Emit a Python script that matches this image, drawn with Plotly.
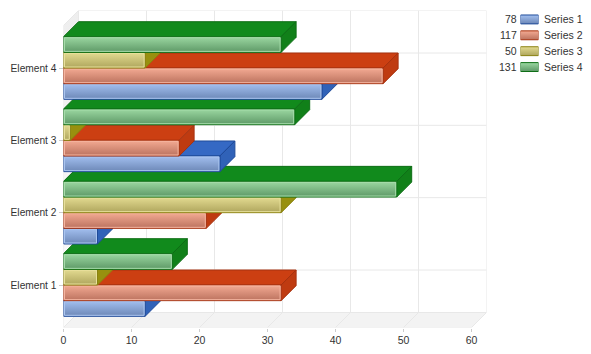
import plotly.graph_objects as go

categories = ["Element 1", "Element 2", "Element 3", "Element 4"]
series_names = ["Series 1", "Series 2", "Series 3", "Series 4"]
series_1 = [12, 5, 23, 38]
series_2 = [32, 21, 17, 47]
series_3 = [5, 32, 1, 12]
series_4 = [16, 49, 34, 32]
all_series = [series_1, series_2, series_3, series_4]
x_ticks = [0, 10, 20, 30, 40, 50, 60]

W, H = 591, 354
L, R, T, B = 63.5, 486.5, 10.5, 327.5
PX_X = 6.8
PX_Y = 72.33
DX = 15 / PX_X
DY = 15 / PX_Y
Y0 = 285.0
XMAX = (R - L) / PX_X
YMIN = (Y0 - B) / PX_Y
YMAX = (Y0 - T) / PX_Y
BAR_H = 15.65 / PX_Y

front_top = ["#a3c0f0", "#f4ab94", "#e4dc92", "#9cd8a2"]
front_bot = ["#6c87b6", "#bb725e", "#aea55c", "#5d9866"]
inner = ["#aac5f0", "#f5b5a0", "#e8e09c", "#a6dcaa"]
top_col = ["#3569c4", "#cc3f12", "#a39a10", "#118a1c"]
side_col = ["#3062b8", "#bf3b11", "#98900f", "#118019"]
edge_col = ["#1f4a99", "#a63210", "#8a8210", "#0e6e16"]

fig = go.Figure()


def poly(xs, ys, fill=None, line=None, width=1, gradient=None, xa="x", ya="y"):
    kw = {}
    if gradient:
        kw["fillgradient"] = dict(type="vertical", colorscale=[[0, gradient[1]], [1, gradient[0]]])
    elif fill:
        kw["fillcolor"] = fill
    fig.add_trace(go.Scatter(
        x=xs, y=ys, mode="lines", fill="toself" if (fill or gradient) else "none",
        line=dict(color=line or "rgba(0,0,0,0)", width=width),
        hoverinfo="skip", showlegend=False, xaxis=xa, yaxis=ya, **kw))


def lines(segs, color):
    xs, ys = [], []
    for (a, b, c, d) in segs:
        xs += [a, c, None]
        ys += [b, d, None]
    fig.add_trace(go.Scatter(x=xs, y=ys, mode="lines", line=dict(color=color, width=1),
                             hoverinfo="skip", showlegend=False))


grid = "#e8e8e8"
# walls
poly([0, DX, DX, 0, 0], [YMIN, YMIN + DY, YMAX, YMAX - DY, YMIN],
     gradient=("#eeeeee", "#fbfbfb"))
poly([0, 60, 60 + DX, DX, 0], [YMIN, YMIN, YMIN + DY, YMIN + DY, YMIN], fill="#f3f3f3")
segs = []
for t in x_ticks:
    segs.append((t + DX, YMIN + DY, t + DX, YMAX))
    segs.append((t, YMIN, t + DX, YMIN + DY))
for i in range(len(categories)):
    segs.append((DX, i + DY, 60 + DX, i + DY))
    segs.append((0, i, DX, i + DY))
segs += [(DX, YMAX, 60 + DX, YMAX), (DX, YMIN + DY, 60 + DX, YMIN + DY), (0, YMIN, 60, YMIN), (0, YMIN, 0, YMAX - DY), (0, YMAX - DY, DX, YMAX)]
lines(segs, grid)

# bars, painted back to front
for c in range(len(categories)):
    for s, vals in enumerate(all_series):
        v = vals[c]
        y0 = c + (s - 2) * BAR_H
        y1 = y0 + BAR_H
        poly([0, v, v + DX, DX, 0], [y1, y1, y1 + DY, y1 + DY, y1], fill=top_col[s], line=edge_col[s])
        poly([v, v + DX, v + DX, v, v], [y0, y0 + DY, y1 + DY, y1, y0], fill=side_col[s], line=edge_col[s])
        poly([0, v, v, 0, 0], [y0, y0, y1, y1, y0], gradient=(front_top[s], front_bot[s]), line=edge_col[s])
        ix, iy = 1 / PX_X, 1 / PX_Y
        poly([ix, v - ix, v - ix, ix, ix], [y0 + iy, y0 + iy, y1 - iy, y1 - iy, y0 + iy],
             line=inner[s])

# legend swatches on their own small axes
for s, name in enumerate(series_names):
    poly([0, 1, 1, 0, 0], [s - 0.28, s - 0.28, s + 0.28, s + 0.28, s - 0.28],
         gradient=(front_top[s], front_bot[s]), line=edge_col[s], xa="x2", ya="y2")

annotations = []
for s, name in enumerate(series_names):
    annotations.append(dict(text=str(sum(all_series[s])), xref="paper", yref="y2", x=518.5 / W, y=s,
                            xanchor="right", yanchor="middle", showarrow=False,
                            font=dict(family="Liberation Sans", size=10.5, color="#333333")))
    annotations.append(dict(text=name, xref="paper", yref="y2", x=541.5 / W, y=s,
                            xanchor="left", yanchor="middle", showarrow=False,
                            font=dict(family="Liberation Sans", size=10.5, color="#333333")))

fig.update_layout(
    width=W, height=H, autosize=False,
    margin=dict(l=0, r=0, t=0, b=0, pad=0),
    paper_bgcolor="white", plot_bgcolor="rgba(0,0,0,0)",
    showlegend=False, annotations=annotations,
    font=dict(family="Liberation Sans", size=10.2, color="#333333"),
    xaxis=dict(domain=[L / W, R / W], range=[0, XMAX], tickmode="array", tickvals=x_ticks,
               ticktext=[str(t) for t in x_ticks], showgrid=False, zeroline=False, showline=False,
               ticks="outside", ticklen=3, tickcolor="#cccccc", automargin=False,
               tickfont=dict(size=10.5)),
    yaxis=dict(domain=[1 - B / H, 1 - T / H], range=[YMIN, YMAX], tickmode="array",
               tickvals=list(range(len(categories))), ticktext=categories, showgrid=False,
               zeroline=False, showline=False, ticks="outside", ticklen=4, tickcolor="#cccccc",
               automargin=False),
    xaxis2=dict(domain=[520.5 / W, 538.5 / W], range=[0, 1], visible=False, anchor="y2"),
    yaxis2=dict(domain=[1 - 75 / H, 1 - 11.5 / H], range=[3.5, -0.5], visible=False, anchor="x2"),
)

fig.write_html("out.html", config=dict(displayModeBar=False),
               post_script="document.body.style.margin='0';")
